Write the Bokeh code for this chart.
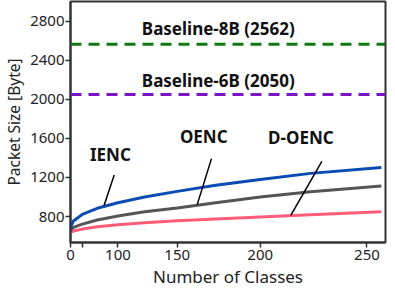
from bokeh.plotting import figure
from bokeh.models import Range1d, FixedTicker, CustomJSTickFormatter, Span, Label, ColumnDataSource
from bokeh.embed import file_html
from bokeh.resources import INLINE

# ---- data ----
classes = [1, 10, 25, 50, 75, 100, 125, 150, 175, 200, 225, 256]
ienc = [665, 700, 755, 823, 885, 941, 1000, 1058, 1120, 1180, 1242, 1302]
oenc = [650, 665, 690, 723, 765, 807, 850, 889, 941, 1000, 1053, 1112]
d_oenc = [635, 642, 652, 672, 695, 717, 738, 757, 775, 795, 818, 850]

baseline_names = ["Baseline-8B (2562)", "Baseline-6B (2050)"]
baseline_values = [2562, 2050]
baseline_colors = ["#127812", "#7a14c4"]

x_ticks = [0, 50, 100, 150, 200, 250]
y_ticks = [800, 1200, 1600, 2000, 2400, 2800]

# the x axis of the reference is on a quadratic scale
def q(n):
    return n * n

FONT = "Noto Sans"

p = figure(width=387, height=290, output_backend="svg", toolbar_location=None,
           x_range=Range1d(0, q(257.7)), y_range=Range1d(535, 3000),
           min_border_left=58, min_border_right=2, min_border_top=1, min_border_bottom=0)

p.grid.visible = False
p.outline_line_color = "#333333"
p.outline_line_width = 2
p.background_fill_color = "white"
p.border_fill_color = "white"

for ax in (p.xaxis[0], p.yaxis[0]):
    ax.axis_line_color = "#333333"
    ax.axis_line_width = 2
    ax.major_tick_line_color = "#333333"
    ax.major_tick_line_width = 1.5
    ax.major_tick_out = 5
    ax.major_tick_in = 0
    ax.minor_tick_line_color = None
    ax.major_label_text_font = FONT
    ax.major_label_text_font_size = "15px"
    ax.major_label_text_color = "#222222"
    ax.axis_label_text_font = FONT
    ax.axis_label_text_font_style = "normal"
    ax.axis_label_text_color = "#222222"

p.xaxis.ticker = FixedTicker(ticks=[q(t) for t in x_ticks])
p.xaxis.formatter = CustomJSTickFormatter(code="""
    const n = Math.round(Math.sqrt(tick));
    return n == 50 ? "" : String(n);
""")
p.xaxis.axis_label = "Number of Classes"
p.xaxis.axis_label_text_font_size = "17px"
p.xaxis.major_label_standoff = 2
p.xaxis.axis_label_standoff = 2

p.yaxis.ticker = FixedTicker(ticks=y_ticks)
p.yaxis.axis_label = "Packet Size [Byte]"
p.yaxis.axis_label_text_font_size = "15.5px"
p.yaxis.major_label_standoff = 1
p.yaxis.axis_label_standoff = 2

# baselines
for name, val, col in zip(baseline_names, baseline_values, baseline_colors):
    p.add_layout(Span(location=val, dimension="width", line_color=col,
                      line_width=3, line_dash="11 7"))

# curves
src = ColumnDataSource(dict(u=[q(n) for n in classes], ienc=ienc, oenc=oenc, doenc=d_oenc))
p.line("u", "doenc", source=src, line_color="#ff5c7a", line_width=3)
p.line("u", "oenc", source=src, line_color="#555555", line_width=3)
p.line("u", "ienc", source=src, line_color="#0a4bb4", line_width=3)

# annotations (class count, value)
label_texts = ["IENC", "OENC", "D-OENC"]
label_pos = [(91.7, 1433), (167.6, 1624), (220.4, 1614)]
leader_lines = [((96, 1225), (84, 910)),
                ((172.4, 1393), (163.4, 920)),
                ((230.2, 1366), (215.5, 812))]

for (a, b) in leader_lines:
    p.line([q(a[0]), q(b[0])], [a[1], b[1]], line_color="black", line_width=1.5)

for t, (n, v) in zip(label_texts, label_pos):
    p.add_layout(Label(x=q(n), y=v, text=t, text_align="center", text_baseline="middle",
                       text_font=FONT, text_font_size="17px", text_font_style="bold",
                       text_color="#111111"))

baseline_label_pos = [(176.5, 2720), (176.5, 2197)]
for t, (n, v) in zip(baseline_names, baseline_label_pos):
    p.add_layout(Label(x=q(n), y=v, text=t, text_align="center", text_baseline="middle",
                       text_font=FONT, text_font_size="17px", text_font_style="bold",
                       text_color="#111111"))

open("out.html", "w").write(file_html(p, INLINE))
